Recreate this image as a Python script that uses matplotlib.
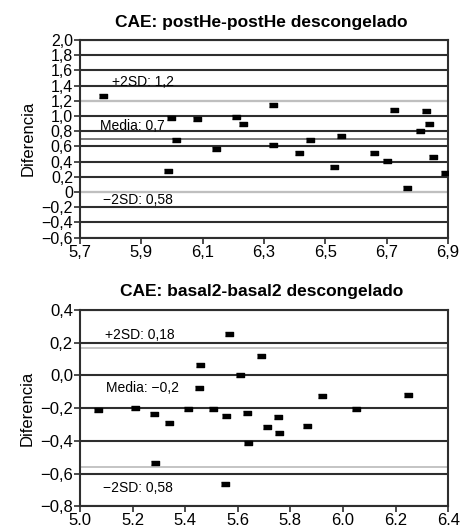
import matplotlib
matplotlib.use("Agg")
import matplotlib.pyplot as plt

plt.rcParams['font.family'] = ['Liberation Sans', 'DejaVu Sans']

# panel 1: CAE postHe-postHe descongelado
top_x = [5.776, 5.996, 6.083, 6.209, 6.233, 6.328, 6.722, 6.827, 6.836, 6.809,
         6.013, 5.988, 6.143, 6.328, 6.413, 6.45, 6.529, 6.55, 6.657, 6.70,
         6.767, 6.852, 6.89]
top_y = [1.26, 0.98, 0.96, 0.99, 0.90, 1.15, 1.08, 1.07, 0.90, 0.81,
         0.69, 0.28, 0.57, 0.62, 0.51, 0.69, 0.33, 0.74, 0.52, 0.41,
         0.05, 0.46, 0.25]
top_xticks = [5.7, 5.9, 6.1, 6.3, 6.5, 6.7, 6.9]
top_xlabels = ['5,7', '5,9', '6,1', '6,3', '6,5', '6,7', '6,9']
top_yticks = [2.0, 1.8, 1.6, 1.4, 1.2, 1.0, 0.8, 0.6, 0.4, 0.2, 0.0, -0.2, -0.4, -0.6]
top_ylabels = ['2,0', '1,8', '1,6', '1,4', '1,2', '1,0', '0,8', '0,6', '0,4', '0,2',
               '0', '\u22120,2', '\u22120,4', '\u22120,6']
top_ref = [1.2, 0.7, 0.0]   # +2SD, media, -2SD lines as drawn

# panel 2: CAE basal2-basal2 descongelado
bot_x = [5.566, 5.456, 5.688, 5.609, 5.452, 5.922, 6.249,
         5.07, 5.209, 5.281, 5.34, 5.41, 5.507, 5.557, 5.636, 5.754, 5.71,
         5.756, 5.862, 5.639, 5.286, 5.553, 6.05]
bot_y = [0.25, 0.065, 0.12, 0.0, -0.075, -0.127, -0.122,
         -0.213, -0.20, -0.238, -0.293, -0.205, -0.205, -0.248, -0.231, -0.254, -0.316,
         -0.353, -0.307, -0.412, -0.534, -0.662, -0.207]
bot_xticks = [5.0, 5.2, 5.4, 5.6, 5.8, 6.0, 6.2, 6.4]
bot_xlabels = ['5.0', '5.2', '5.4', '5.6', '5.8', '6.0', '6.2', '6.4']
bot_yticks = [0.4, 0.2, 0.0, -0.2, -0.4, -0.6, -0.8]
bot_ylabels = ['0,4', '0,2', '0,0', '\u22120,2', '\u22120,4', '\u22120,6', '\u22120,8']
bot_ref = [0.165, -0.56]

dash = [(-1, -0.45), (1, -0.45), (1, 0.45), (-1, 0.45)]

fig = plt.figure(figsize=(4.62, 5.27), dpi=100)
ax1 = fig.add_axes([0.173, 0.549, 0.797, 0.375])
ax2 = fig.add_axes([0.173, 0.039, 0.797, 0.373])


def style(ax, xt, xl, yt, yl, xlim, ylim):
    ax.set_xlim(*xlim)
    ax.set_ylim(*ylim)
    ax.set_xticks(xt)
    ax.set_xticklabels(xl)
    ax.set_yticks(yt)
    ax.set_yticklabels(yl)
    for v in yt:
        ax.axhline(v, color='#2e2e2e', lw=1.5, zorder=1)
    for s in ax.spines.values():
        s.set_color('#2e2e2e')
        s.set_linewidth(1.5)
    ax.tick_params(length=4, width=1.2, color='#2e2e2e', labelsize=12, pad=1)
    ax.set_ylabel('Diferencia', fontsize=12, labelpad=4)


style(ax1, top_xticks, top_xlabels, top_yticks, top_ylabels, (5.7, 6.9), (-0.6, 2.0))
ax1.yaxis.set_tick_params(labelsize=11.5)
for v, c in zip(top_ref, ['#c4c4c4', '#7a7a7a', '#c4c4c4']):
    ax1.axhline(v, color=c, lw=1.4, zorder=1.5)
ax1.plot(top_x, top_y, ls='none', marker=dash, ms=6, color='black', zorder=3)
ax1.text(5.803, 1.45, '+2SD: 1,2', fontsize=10, va='center')
ax1.text(5.765, 0.87, 'Media: 0,7', fontsize=10, va='center')
ax1.text(5.775, -0.105, '\u22122SD: 0,58', fontsize=10, va='center')
fig.text(0.566, 0.958, 'CAE: postHe-postHe descongelado', fontsize=12.5,
         fontweight='bold', ha='center', va='center')

style(ax2, bot_xticks, bot_xlabels, bot_yticks, bot_ylabels, (5.0, 6.4), (-0.8, 0.4))
for v in bot_ref:
    ax2.axhline(v, color='#c4c4c4', lw=1.4, zorder=1.5)
ax2.plot(bot_x, bot_y, ls='none', marker=dash, ms=6, color='black', zorder=3)
ax2.text(5.095, 0.244, '+2SD: 0,18', fontsize=10, va='center')
ax2.text(5.099, -0.077, 'Media: \u22120,2', fontsize=10, va='center')
ax2.text(5.087, -0.686, '\u22122SD: 0,58', fontsize=10, va='center')
fig.text(0.566, 0.446, 'CAE: basal2-basal2 descongelado', fontsize=12.5,
         fontweight='bold', ha='center', va='center')

fig.savefig('out.png', dpi=100)
